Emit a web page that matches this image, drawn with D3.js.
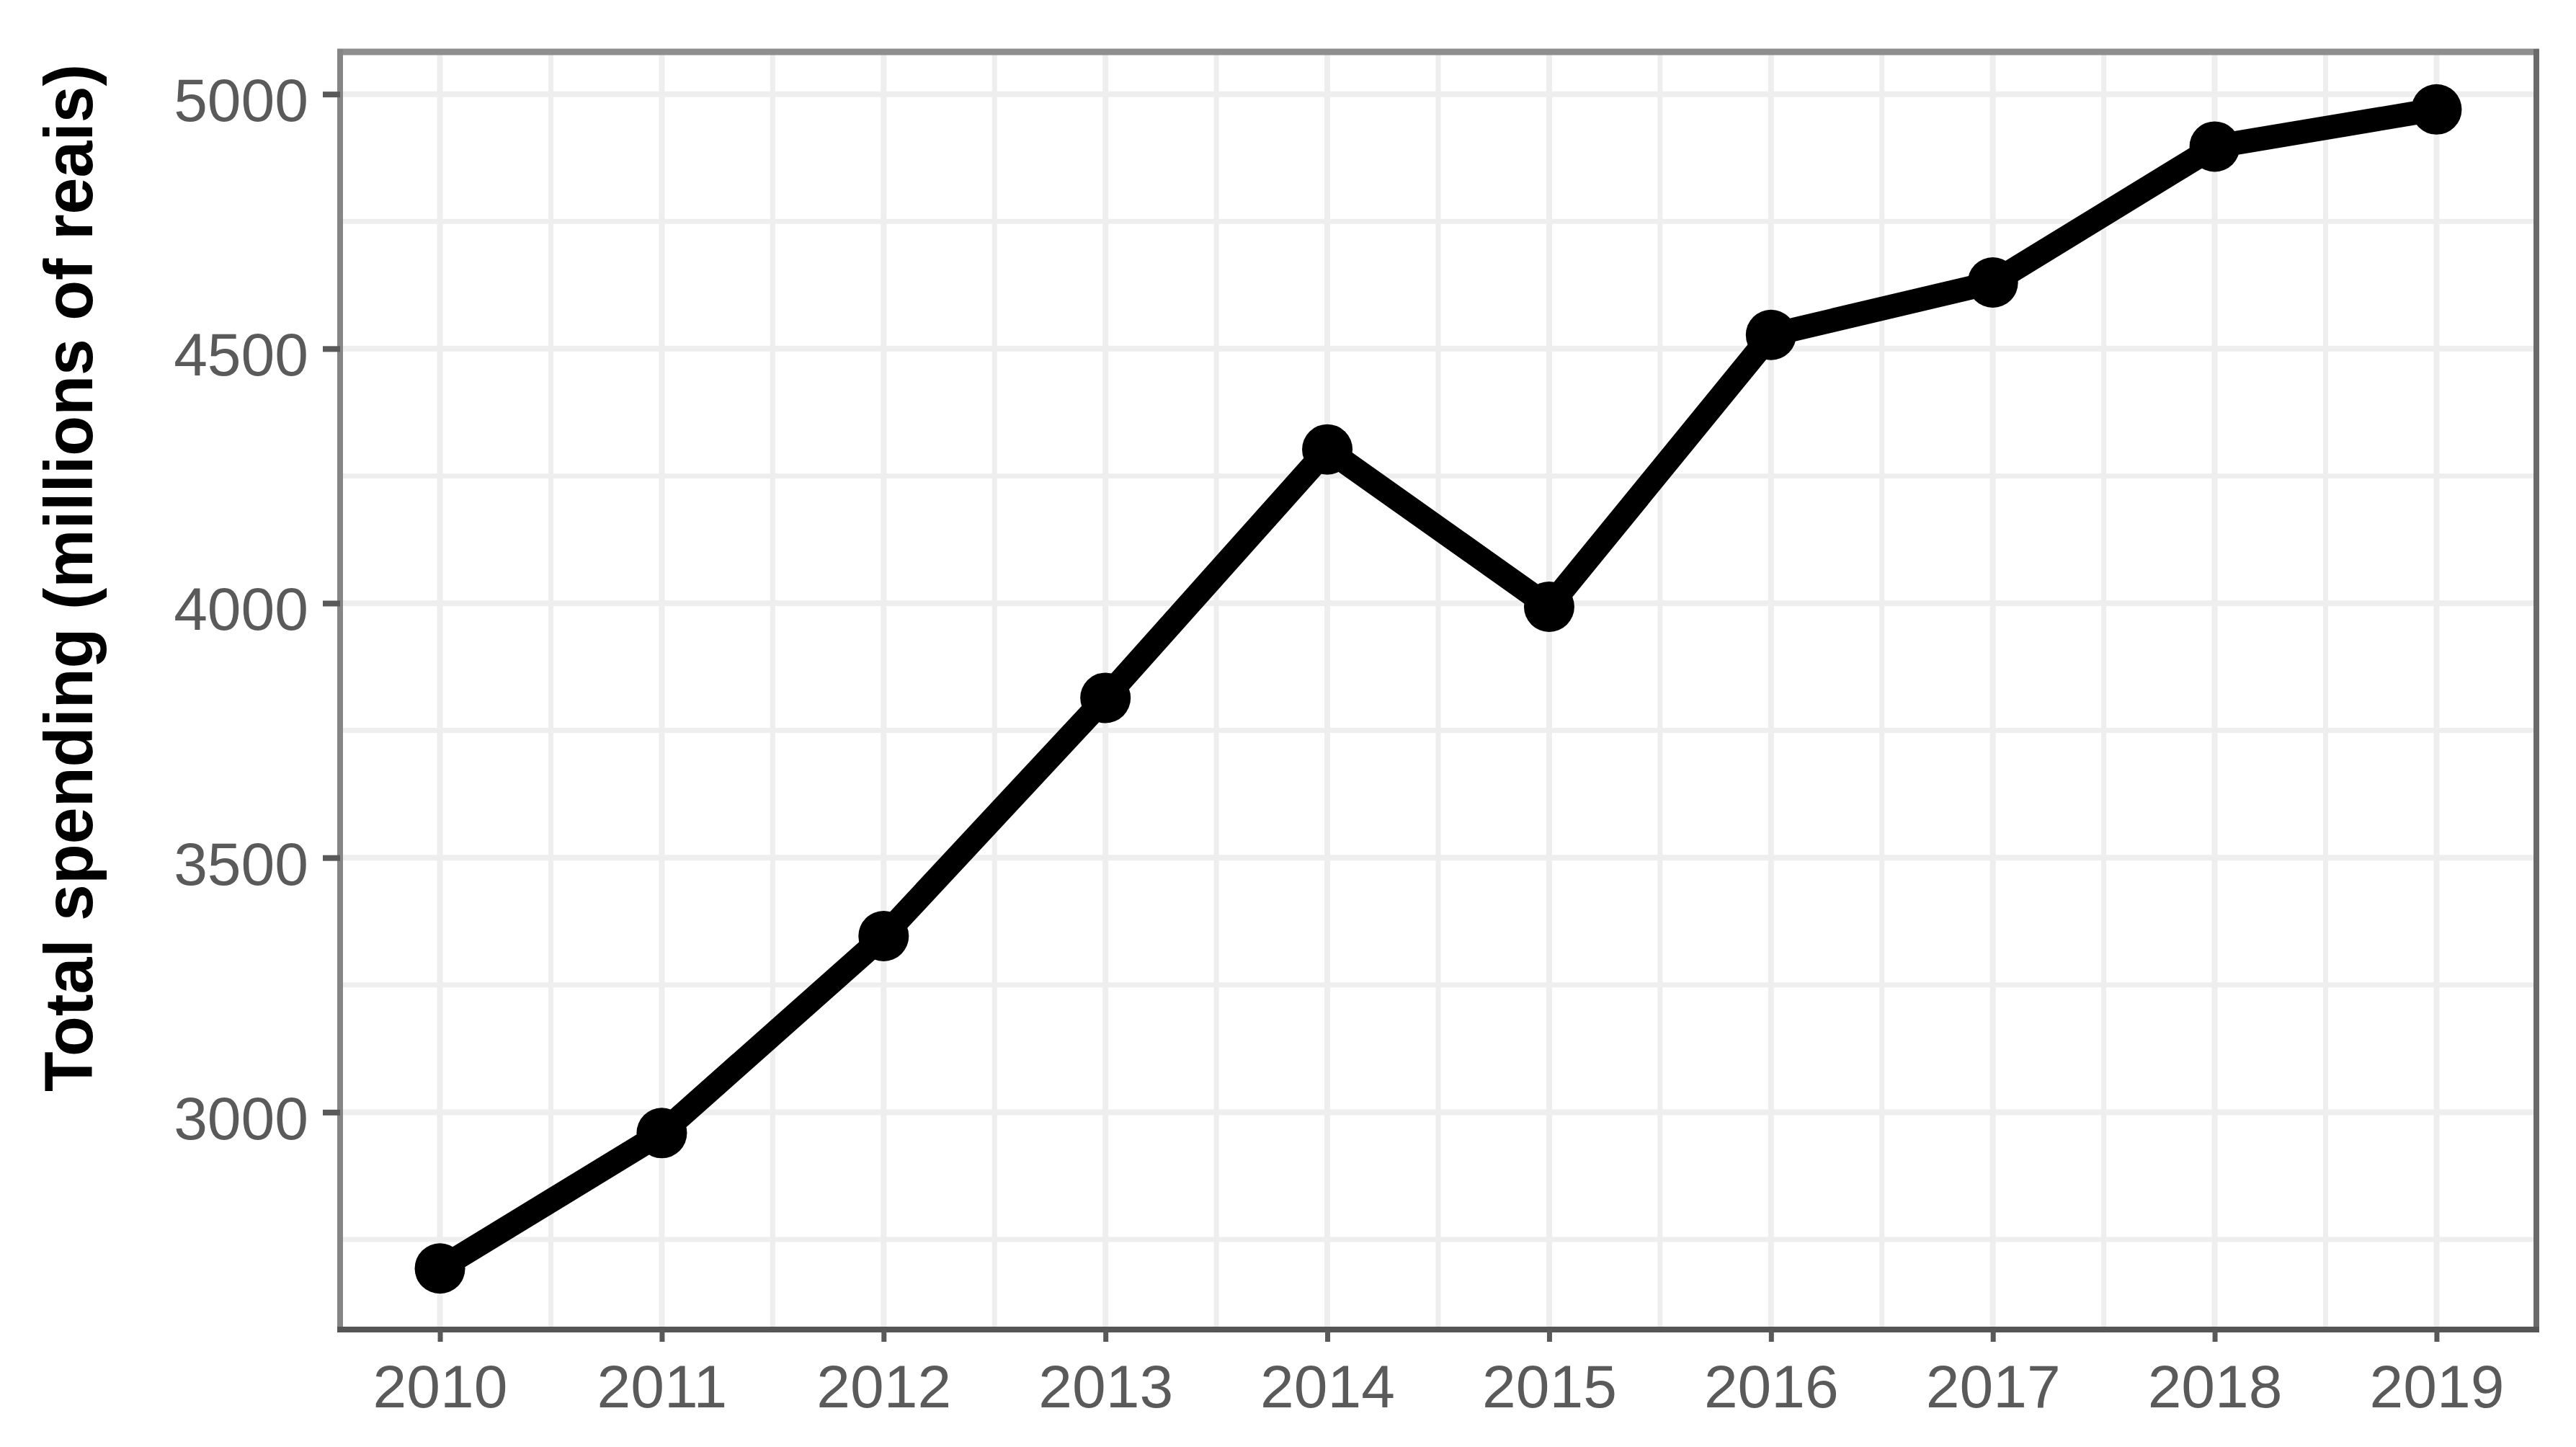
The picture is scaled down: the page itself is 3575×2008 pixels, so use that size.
<!DOCTYPE html>
<html>
<head>
<meta charset="utf-8">
<script src="https://cdn.jsdelivr.net/npm/d3@7"></script>
<style>
  html, body { margin: 0; padding: 0; background: #ffffff; }
  svg { display: block; }
</style>
</head>
<body>
<svg id="chart" width="3575" height="2008"></svg>
<script>
// ---- data ----
const years = [2010, 2011, 2012, 2013, 2014, 2015, 2016, 2017, 2018, 2019];
const spending = [2693, 2959, 3346, 3814, 4302, 3993, 4527, 4630, 4897, 4970];
const yTicks = [3000, 3500, 4000, 4500, 5000];
const yMinorTicks = [2750, 3250, 3750, 4250, 4750];
const xTicks = [2010, 2011, 2012, 2013, 2014, 2015, 2016, 2017, 2018, 2019];
const xMinorTicks = [2010.5, 2011.5, 2012.5, 2013.5, 2014.5, 2015.5, 2016.5, 2017.5, 2018.5];
const yLimits = [2573, 5083];
const xLimits = [2009.55, 2019.45];
const yTitle = "Total spending (millions of reais)";

// ---- layout ----
const W = 3575, H = 2008;
const panel = { left: 472, right: 3520, top: 72, bottom: 1845 };

const svg = d3.select("#chart");
svg.append("rect").attr("width", W).attr("height", H).attr("fill", "#ffffff");

const x = d3.scaleLinear().domain(xLimits).range([panel.left, panel.right]);
const y = d3.scaleLinear().domain(yLimits).range([panel.bottom, panel.top]);

// ---- grid ----
const grid = svg.append("g");
const gridColor = "#EEEEEE";
grid.selectAll("line.hmin").data(yMinorTicks).enter().append("line")
  .attr("x1", panel.left).attr("x2", panel.right)
  .attr("y1", d => y(d)).attr("y2", d => y(d))
  .attr("stroke", gridColor).attr("stroke-width", 7);
grid.selectAll("line.vmin").data(xMinorTicks).enter().append("line")
  .attr("y1", panel.top).attr("y2", panel.bottom)
  .attr("x1", d => x(d)).attr("x2", d => x(d))
  .attr("stroke", gridColor).attr("stroke-width", 7);
grid.selectAll("line.hmaj").data(yTicks).enter().append("line")
  .attr("x1", panel.left).attr("x2", panel.right)
  .attr("y1", d => y(d)).attr("y2", d => y(d))
  .attr("stroke", gridColor).attr("stroke-width", 8);
grid.selectAll("line.vmaj").data(xTicks).enter().append("line")
  .attr("y1", panel.top).attr("y2", panel.bottom)
  .attr("x1", d => x(d)).attr("x2", d => x(d))
  .attr("stroke", gridColor).attr("stroke-width", 8);

// ---- data line & points ----
const data = years.map((yr, i) => ({ year: yr, value: spending[i] }));
const line = d3.line().x(d => x(d.year)).y(d => y(d.value));
svg.append("path").datum(data)
  .attr("d", line)
  .attr("fill", "none")
  .attr("stroke", "#000000")
  .attr("stroke-width", 33)
  .attr("stroke-linejoin", "round")
  .attr("stroke-linecap", "butt");
svg.selectAll("circle.pt").data(data).enter().append("circle")
  .attr("class", "pt")
  .attr("cx", d => x(d.year)).attr("cy", d => y(d.value))
  .attr("r", 35)
  .attr("fill", "#000000");

// ---- panel border ----
const border = svg.append("g");
border.append("line").attr("x1", panel.left - 4).attr("x2", panel.right + 4)
  .attr("y1", panel.top).attr("y2", panel.top)
  .attr("stroke", "#8E8E8E").attr("stroke-width", 9);
border.append("line").attr("x1", panel.left).attr("x2", panel.left)
  .attr("y1", panel.top - 4).attr("y2", panel.bottom + 4)
  .attr("stroke", "#858585").attr("stroke-width", 8);
border.append("line").attr("x1", panel.right).attr("x2", panel.right)
  .attr("y1", panel.top - 4).attr("y2", panel.bottom + 4)
  .attr("stroke", "#6A6A6A").attr("stroke-width", 8);
border.append("line").attr("x1", panel.left - 4).attr("x2", panel.right + 4)
  .attr("y1", panel.bottom).attr("y2", panel.bottom)
  .attr("stroke", "#555555").attr("stroke-width", 8);

// ---- axes ----
const labelFont = "'Liberation Sans', Arial, sans-serif";
const yAxis = svg.append("g")
  .attr("transform", `translate(${panel.left},0)`)
  .call(d3.axisLeft(y).tickValues(yTicks).tickSize(24).tickPadding(20).tickFormat(d3.format("d")));
yAxis.select(".domain").remove();
yAxis.selectAll(".tick line").attr("stroke", "#595959").attr("stroke-width", 8);
yAxis.selectAll(".tick text")
  .attr("font-family", labelFont).attr("font-size", 84)
  .attr("fill", "#5A5A5A").attr("dy", "0.44em");

const xAxis = svg.append("g")
  .attr("transform", `translate(0,${panel.bottom})`)
  .call(d3.axisBottom(x).tickValues(xTicks).tickSize(17).tickPadding(31).tickFormat(d3.format("d")));
xAxis.select(".domain").remove();
xAxis.selectAll(".tick line").attr("stroke", "#595959").attr("stroke-width", 7);
xAxis.selectAll(".tick text")
  .attr("font-family", labelFont).attr("font-size", 84)
  .attr("fill", "#5A5A5A");

// ---- axis title ----
svg.append("text")
  .attr("transform", "translate(128,802) rotate(-90)")
  .attr("text-anchor", "middle")
  .attr("font-family", labelFont)
  .attr("font-weight", "bold")
  .attr("font-size", 94)
  .attr("fill", "#000000")
  .attr("textLength", 1426)
  .attr("lengthAdjust", "spacingAndGlyphs")
  .text(yTitle);
</script>
</body>
</html>
